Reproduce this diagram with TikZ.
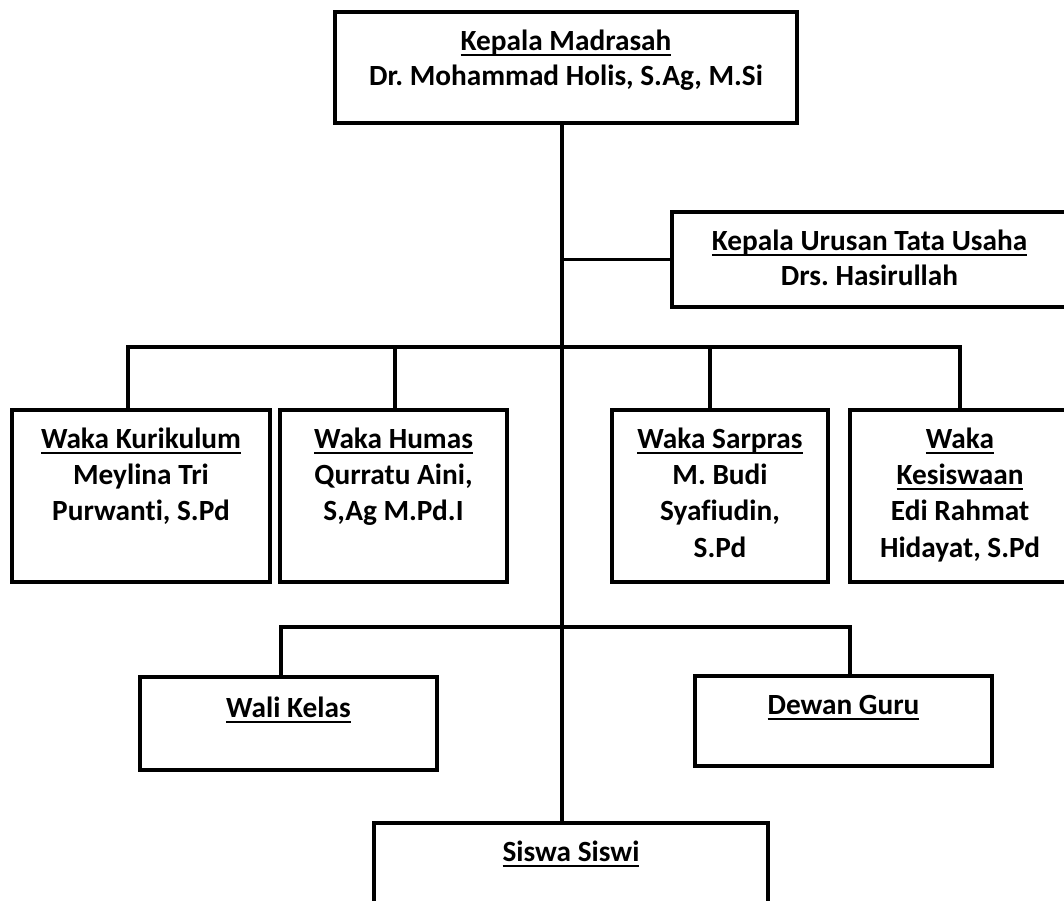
\documentclass[tikz,border=0pt]{standalone}
\usepackage{fontspec}
\setmainfont{Carlito}[Ligatures=NoCommon]
\usetikzlibrary{calc}
\newsavebox\ulbox
\newcommand\ulx[1]{\sbox\ulbox{#1}\rlap{\rule[-5.5pt]{\wd\ulbox}{2pt}}\usebox\ulbox}
\newcommand\tstrut{\rule{0pt}{24pt}}
\frenchspacing
\begin{document}
\begin{tikzpicture}[x=1pt,y=-1pt,
  box/.style={draw, line width=4.3pt, inner sep=0pt, rectangle},
  txt/.style={font=\fontsize{29.3}{36.3}\selectfont\bfseries, align=center, inner sep=0pt, anchor=north},
  txttop/.style={txt, font=\fontsize{29.3}{35}\selectfont\bfseries},
  conn/.style={line width=3.4pt, line join=miter, line cap=rect}]
\useasboundingbox[fill=white] (0,0) rectangle (1064,900);

% boxes
\node[box, minimum width=462pt, minimum height=111pt] (kepala) at (566,67.5) {};
\node[box, minimum width=395pt, minimum height=95pt] (tu) at (869.5,259.5) {};
\node[box, minimum width=258pt, minimum height=172pt] (kur) at (141,496) {};
\node[box, minimum width=227pt, minimum height=172pt] (hum) at (393.5,496) {};
\node[box, minimum width=216pt, minimum height=172pt] (sar) at (720,496) {};
\node[box, minimum width=220pt, minimum height=172pt] (kes) at (960,496) {};
\node[box, minimum width=297pt, minimum height=93pt] (wali) at (288.5,723.5) {};
\node[box, minimum width=297pt, minimum height=90pt] (dewan) at (843.5,721) {};
\node[box, minimum width=394pt, minimum height=150pt] (siswa) at (571,898) {};

% texts (node top = first baseline - 24)
\node[txttop] (kepalaT) at (566,26) {\tstrut\ulx{Kepala Madrasah}\\Dr. Mohammad Holis, S.Ag, M.Si};
\node[txttop] (tuT) at (869.5,226) {\tstrut\ulx{Kepala Urusan Tata Usaha}\\Drs. Hasirullah};
\node[txt] (kurT) at (141,424) {\tstrut\ulx{Waka Kurikulum}\\Meylina Tri\\Purwanti, S.Pd};
\node[txt] (humT) at (393.5,424) {\tstrut\ulx{Waka Humas}\\Qurratu Aini,\\S,Ag M.Pd.I};
\node[txt] (sarT) at (720,424) {\tstrut\ulx{Waka Sarpras}\\M. Budi\\Syafiudin,\\S.Pd};
\node[txt] (kesT) at (960,424) {\tstrut\ulx{Waka}\\\ulx{Kesiswaan}\\Edi Rahmat\\Hidayat, S.Pd};
\node[txt] (waliT) at (288.5,693) {\tstrut\ulx{Wali Kelas}};
\node[txt] (dewanT) at (843.5,690) {\tstrut\ulx{Dewan Guru}};
\node[txt] (siswaT) at (571,837) {\tstrut\ulx{Siswa Siswi}};

% connectors
\coordinate (tx) at (562,0);
\draw[conn] (kepala.south -| tx) -- (siswa.north -| tx);
\draw[conn] (tu.west) -- (tu.west -| tx);
\coordinate (b1L) at (128,347);
\coordinate (b1R) at (960,347);
\coordinate (hd) at (395,347);
\coordinate (sd) at (710,347);
\draw[conn] (kur.north -| b1L) -- (b1L) -- (b1R) -- (kes.north -| b1R);
\draw[conn] (hd) -- (hum.north -| hd);
\draw[conn] (sd) -- (sar.north -| sd);
\coordinate (b2L) at (281,627);
\coordinate (b2R) at (850,627);
\draw[conn] (wali.north -| b2L) -- (b2L) -- (b2R) -- (dewan.north -| b2R);
\end{tikzpicture}
\end{document}
